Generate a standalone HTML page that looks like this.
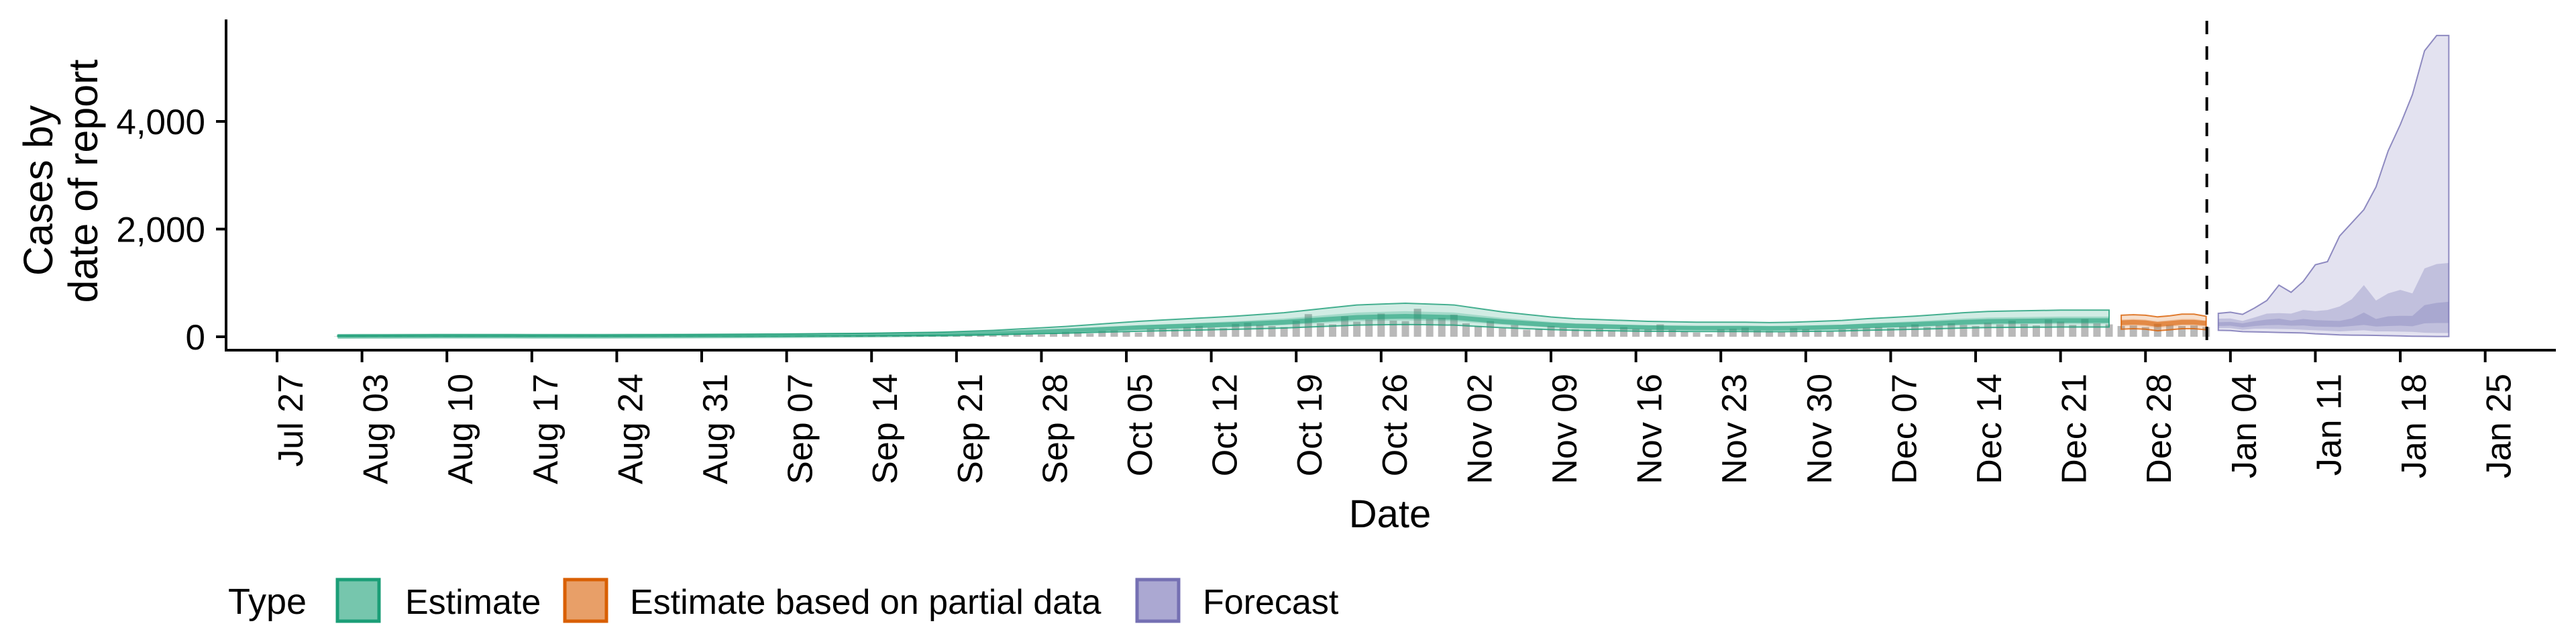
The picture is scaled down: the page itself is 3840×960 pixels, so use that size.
<!DOCTYPE html>
<html><head><meta charset="utf-8"><style>
html,body{margin:0;padding:0;background:#fff;}
svg{display:block;font-family:"Liberation Sans",sans-serif;}
</style></head><body>
<svg id="chart" width="3840" height="960" viewBox="0 0 3840 960" xmlns="http://www.w3.org/2000/svg">
<g id="plot"></g>
<g id="axes"></g>
<text transform="translate(78,284) rotate(-90)" text-anchor="middle" font-size="61">Cases by</text>
<text transform="translate(145,270) rotate(-90)" text-anchor="middle" font-size="61">date of report</text>
<text x="2072" y="786" text-anchor="middle" font-size="58">Date</text>
<g>
<text x="340" y="915" font-size="54">Type</text>
<g><rect x="503" y="864" width="62" height="62" fill="#76c6ad" stroke="#1b9e77" stroke-width="5"/><text x="604" y="915" font-size="52">Estimate</text></g>
<g><rect x="842" y="864" width="62" height="62" fill="#e89f68" stroke="#d95f02" stroke-width="5"/><text x="939" y="915" font-size="52">Estimate based on partial data</text></g>
<g><rect x="1695" y="864" width="62" height="62" fill="#aba8d2" stroke="#7570b3" stroke-width="5"/><text x="1793" y="915" font-size="52">Forecast</text></g>
</g>
</svg>
<script>
// ---- data ----
const barStartDay = 5; // days since Jul 27
const reported = [5,8,6,10,12,9,7,6,9,11,10,8,7,6,8,10,9,7,6,5,8,9,11,10,8,7,9,12,14,11,10,9,12,15,16,13,12,14,18,20,
22,18,25,30,28,24,20,30,35,32,28,25,40,45,30,55,60,48,42,70,90,85,60,110,120,95,80,150,160,140,
180,200,170,160,240,260,220,200,180,300,420,250,230,380,280,320,430,300,290,520,330,350,410,250,200,290,160,220,130,150,
200,170,140,130,160,120,180,150,140,230,130,100,80,50,140,150,170,120,110,90,160,140,120,100,140,150,170,180,160,190,
230,180,210,250,220,200,260,230,300,240,210,320,280,220,330,250,230,200,210,180,240,220,200,210,180];
const estStartDay = 5, estStep = 2;
const estMed = [8,9,10,11,12,12,12,12,11,11,11,11,12,13,14,15,17,19,21,23,26,29,32,36,40,45,55,65,80,95,110,130,150,170,185,200,215,230,250,270,300,330,360,370,380,370,360,320,280,250,220,200,190,180,170,165,160,160,160,155,160,170,180,200,215,230,250,270,285,290,295,300,300,300];
const estHi90 = [28,29,31,33,34,34,34,34,33,33,33,33,34,36,37,39,42,45,49,52,57,61,66,73,79,87,103,119,143,167,191,223,255,287,311,335,359,383,415,447,495,543,591,607,623,607,591,527,463,415,367,335,319,303,287,279,271,271,271,263,271,287,303,335,359,383,415,447,471,479,487,495,495,495];
const estLo90 = [5,5,6,7,7,7,7,7,7,7,7,7,7,8,8,9,10,11,13,14,16,17,19,22,24,27,33,39,48,57,66,78,90,102,111,120,129,138,150,162,180,198,216,222,228,222,216,192,168,150,132,120,114,108,102,99,96,96,96,93,96,102,108,120,129,138,150,162,171,174,177,180,180,180];
const estHi50 = [10,11,13,14,15,15,15,15,14,14,14,14,15,16,18,19,21,24,26,29,33,36,40,45,50,56,69,81,100,119,138,163,188,213,231,250,269,288,313,338,375,413,450,463,475,463,450,400,350,313,275,250,238,225,213,206,200,200,200,194,200,213,225,250,269,288,313,338,356,363,369,375,375,375];
const estLo50 = [6,7,8,9,10,10,10,10,9,9,9,9,10,10,11,12,14,15,17,18,21,23,26,29,32,36,44,52,64,76,88,104,120,136,148,160,172,184,200,216,240,264,288,296,304,296,288,256,224,200,176,160,152,144,136,132,128,128,128,124,128,136,144,160,172,184,200,216,228,232,236,240,240,240];
const partStartDay = 152;
const partHi90 = [400,410,400,370,390,420,420,380];
const partHi50 = [320,330,320,290,310,330,330,300];
const partMed  = [260,270,260,230,250,270,270,250];
const partLo50 = [200,210,200,170,190,210,210,190];
const partLo90 = [140,150,140,110,130,150,150,130];
const fcStartDay = 160;
const fcHi90 = [435,456,416,536,673,959,826,1027,1338,1396,1872,2116,2361,2784,3452,3941,4498,5312,5597,5597];
const fcHi50 = [336,340,295,360,430,440,430,497,476,497,563,696,959,673,805,871,805,1270,1350,1370];
const fcHi20 = [270,275,250,290,320,336,300,330,310,300,295,340,450,330,380,390,388,588,630,650];
const fcLo20 = [200,205,175,200,215,220,205,210,190,185,180,200,220,190,200,205,195,250,255,255];
const fcLo50 = [160,160,130,150,150,145,140,130,120,110,100,110,120,100,100,95,90,75,70,70];
const fcLo90 = [120,115,95,90,85,80,75,70,55,45,35,30,28,25,20,15,10,8,5,5];
const xTickLabels = ["Jul 27","Aug 03","Aug 10","Aug 17","Aug 24","Aug 31","Sep 07","Sep 14","Sep 21","Sep 28","Oct 05","Oct 12","Oct 19","Oct 26","Nov 02","Nov 09","Nov 16","Nov 23","Nov 30","Dec 07","Dec 14","Dec 21","Dec 28","Jan 04","Jan 11","Jan 18","Jan 25"];
const yTicks = [0,2000,4000];
const yTickLabels = ["0","2,000","4,000"];
const forecastDateDay = 159;

// ---- scales ----
const X0 = 413, PXDAY = 18.086;
const x = d => X0 + d*PXDAY;
const y = v => 502 - v*0.08025;
const NS = "http://www.w3.org/2000/svg";
const plot = document.getElementById('plot');
const axes = document.getElementById('axes');
function mk(tag, attrs, parent){const e=document.createElementNS(NS,tag);for(const k in attrs)e.setAttribute(k,attrs[k]);parent.appendChild(e);return e;}

// bars
reported.forEach((v,i)=>{
  const d = barStartDay+i;
  const r = mk('rect',{x:x(d)-5.5,y:y(v),width:11,height:y(0)-y(v),fill:'#8a8a8a','fill-opacity':0.6},plot);
  
  
});

function band(start, step, hi, lo, fill, op, stroke, name){
  let pts=[];
  hi.forEach((v,i)=>pts.push(x(start+i*step)+','+y(v)));
  for(let i=lo.length-1;i>=0;i--) pts.push(x(start+i*step)+','+y(lo[i]));
  const p = mk('polygon',{points:pts.join(' '),fill:fill,'fill-opacity':op,stroke:stroke||'none','stroke-width':stroke?2:0,'stroke-opacity':0.8},plot);
  
  
}
function line(start, step, vals, color, w, name){
  const pts = vals.map((v,i)=>x(start+i*step)+','+y(v)).join(' ');
  const l = mk('polyline',{points:pts,fill:'none',stroke:color,'stroke-width':w,'stroke-opacity':0.55},plot);
  
  
}
band(estStartDay,estStep,estHi90,estLo90,'#1b9e77',0.2,'#1b9e77','estimate-band-90');
band(estStartDay,estStep,estHi50,estLo50,'#1b9e77',0.25,null,'estimate-band-50');
line(estStartDay,estStep,estMed,'#1b9e77',7,'estimate-median');
band(partStartDay,1,partHi90,partLo90,'#d95f02',0.2,'#d95f02','partial-band-90');
band(partStartDay,1,partHi50,partLo50,'#d95f02',0.25,null,'partial-band-50');
line(partStartDay,1,partMed,'#d95f02',7,'partial-median');
band(fcStartDay,1,fcHi90,fcLo90,'#7570b3',0.2,'#7570b3','forecast-band-90');
band(fcStartDay,1,fcHi50,fcLo50,'#7570b3',0.3,null,'forecast-band-50');
band(fcStartDay,1,fcHi20,fcLo20,'#7570b3',0.3,null,'forecast-band-20');

// forecast date line
const dl = mk('line',{x1:x(forecastDateDay)+1,x2:x(forecastDateDay)+1,y1:31,y2:523,stroke:'#000','stroke-width':4,'stroke-dasharray':'20,18'},plot);



// axes
const ya = mk('line',{x1:337,x2:337,y1:29,y2:524,stroke:'#000','stroke-width':4},axes);


const xa = mk('line',{x1:335,x2:3810,y1:522,y2:522,stroke:'#000','stroke-width':4},axes);


yTicks.forEach((v,i)=>{
  const t = mk('line',{x1:322,x2:337,y1:y(v),y2:y(v),stroke:'#000','stroke-width':4},axes);
  
  
  const tx = mk('text',{x:306,y:y(v)+19,'text-anchor':'end','font-size':53,fill:'#000'},axes);
  tx.textContent = yTickLabels[i];
  
  
});
xTickLabels.forEach((lab,i)=>{
  const xx = x(i*7);
  const t = mk('line',{x1:xx,x2:xx,y1:522,y2:540,stroke:'#000','stroke-width':4},axes);
  
  
  const tx = mk('text',{transform:'translate('+(xx+38)+',557) rotate(-90)','text-anchor':'end','font-size':52,fill:'#000'},axes);
  tx.textContent = lab;
  
  
});
</script>
</body></html>
